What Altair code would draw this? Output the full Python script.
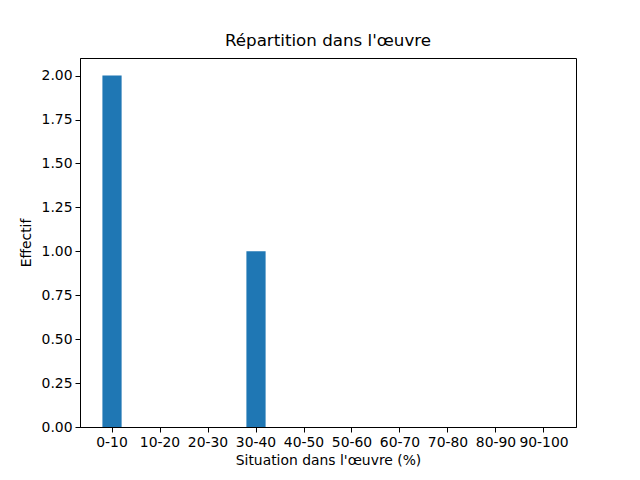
import altair as alt
import pandas as pd

# Histogram-like counts per position range
ranges = ["0-10", "10-20", "20-30", "30-40", "40-50",
          "50-60", "60-70", "70-80", "80-90", "90-100"]
counts = [2, 0, 0, 1, 0, 0, 0, 0, 0, 0]

df = pd.DataFrame({"range": ranges, "count": counts})

FONT = "DejaVu Sans"

chart = alt.Chart(df).mark_bar(color="#1f77b4", opacity=1, strokeWidth=0).encode(
    x=alt.X("range:N", sort=ranges,
            scale=alt.Scale(paddingInner=0.6, paddingOuter=0.467),
            axis=alt.Axis(title="Situation dans l'œuvre (%)", labelAngle=0,
                          ticks=True, tickSize=5, tickColor="black",
                          domainColor="black", labelColor="black",
                          labelFontSize=13.9, labelPadding=3,
                          titleFontSize=13.9, titleFontWeight="normal",
                          titleColor="black", titlePadding=5)),
    y=alt.Y("count:Q", scale=alt.Scale(domain=[0, 2.1], nice=False),
            axis=alt.Axis(title="Effectif", values=[0, 0.25, 0.5, 0.75, 1.0, 1.25, 1.5, 1.75, 2.0],
                          format=".2f", grid=False, tickSize=5, tickColor="black",
                          domainColor="black", labelColor="black",
                          labelFontSize=13.9, labelPadding=3,
                          titleFontSize=13.9, titleFontWeight="normal",
                          titleColor="black", titlePadding=8)),
).properties(
    width=496,
    height=369,
    title=alt.TitleParams("Répartition dans l'œuvre", fontSize=16.7,
                          fontWeight="normal", color="black", offset=8),
    autosize=alt.AutoSizeParams(type="none"),
    padding={"left": 72, "top": 50, "right": 56, "bottom": 45},
).configure(font=FONT).configure_view(stroke="black", strokeWidth=1)

chart.save("out.html", embed_options={"renderer": "svg", "actions": False})
